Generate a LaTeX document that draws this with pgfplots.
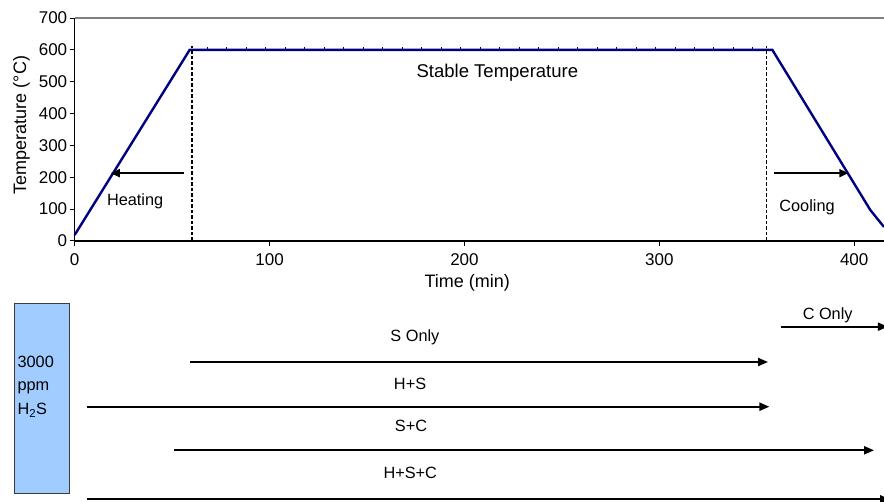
\documentclass[border=0pt]{standalone}
\usepackage{pgfplots}
\pgfplotsset{compat=1.18}
\usepackage{fontspec}
\setmainfont{Liberation Sans}
\usetikzlibrary{arrows.meta}
\definecolor{navyline}{RGB}{0,0,128}
\definecolor{boxfill}{RGB}{160,204,255}
\definecolor{boxedge}{RGB}{60,60,60}
\newcommand\fs[1]{\fontsize{#1}{#1}\selectfont}
\begin{document}
\begin{tikzpicture}
% ---------- top: temperature profile ----------
\begin{axis}[
  at={(74.7pt,-241pt)}, anchor=south west,
  width=809.3pt, height=223pt, scale only axis,
  xmin=0, xmax=415.3, ymin=0, ymax=700,
  xtick={0,100,...,400}, ytick={0,100,...,700},
  axis x line*=bottom, axis y line*=left,
  axis line style={line width=1.6pt, -},
  tick align=outside, major tick length=5pt,
  tick style={line width=1pt, black},
  /pgf/number format/assume math mode=true,
  ticklabel style={font=\fs{17}},
  yticklabel style={xshift=1pt},
  xticklabel style={yshift=-4pt},
  xlabel={Time (min)}, ylabel={Temperature (°C)},
  label style={font=\fs{18}},
  xlabel style={at={(ticklabel cs:0.485)}, anchor=north, yshift=-2pt},
  ylabel style={at={(ticklabel cs:0.52)}, anchor=south, yshift=2pt},
  clip=false,
]
\draw[gray, line width=1.2pt] (rel axis cs:0,1) -- (rel axis cs:1,1);
\addplot[navyline, line width=2.4pt] coordinates {
  (0,19) (59,600) (358,600) (408.3,97) (415.3,44)};
\addplot[navyline, only marks, mark=|, mark size=1.8pt, mark options={line width=0.8pt, yshift=1pt}]
  coordinates {(68,600) (78,600) (88,600) (98,600) (108,600) (118,600) (128,600) (138,600)
  (148,600) (158,600) (168,600) (178,600) (188,600) (198,600) (208,600) (218,600)
  (228,600) (238,600) (248,600) (258,600) (268,600) (278,600) (288,600) (298,600)
  (308,600) (318,600) (328,600) (338,600) (348,600)};
\addplot[black, line width=1.8pt, dash pattern=on 3.5pt off 2pt] coordinates {(60,0) (60,612)};
\addplot[black, line width=1.8pt, dash pattern=on 3.5pt off 2pt] coordinates {(355,0) (355,612)};
\addplot[black, line width=1.9pt, -{Triangle[length=9pt,width=8pt]}] coordinates {(56,213) (18.5,213)};
\addplot[black, line width=1.9pt, -{Triangle[length=9pt,width=8pt]}] coordinates {(359,213) (397,213)};
\node[anchor=base, font=\fs{16.3}] at (axis cs:31,113) {Heating};
\node[anchor=base, font=\fs{16.3}] at (axis cs:375.8,94) {Cooling};
\node[anchor=base, font=\fs{18.5}] at (axis cs:216.9,514) {Stable Temperature};
\end{axis}
% ---------- bottom: gas exposure schedule ----------
\begin{axis}[
  at={(74.7pt,-502pt)}, anchor=south west,
  width=809.3pt, height=212pt, scale only axis,
  xmin=0, xmax=415.3, ymin=-502, ymax=-290,
  axis lines=none, clip=false,
]
\addplot[fill=boxfill, draw=boxedge, line width=1pt] coordinates {
  (-31.1,-303.3) (-2.8,-303.3) (-2.8,-493.3) (-31.1,-493.3)} -- cycle;
\node[anchor=base west, font=\fs{16.3}, inner sep=0pt] at (axis cs:-29.4,-367.3) {3000};
\node[anchor=base west, font=\fs{16.3}, inner sep=0pt] at (axis cs:-29.4,-390.5) {ppm};
\node[anchor=base west, font=\fs{16.3}, inner sep=0pt] at (axis cs:-29.4,-414.5) {H\textsubscript{2}S};
\addplot[black, line width=2pt, -{Triangle[length=10pt,width=8pt]}] coordinates {(59.2,-362) (355.8,-362)};
\addplot[black, line width=2pt, -{Triangle[length=10pt,width=8pt]}] coordinates {(6.1,-406.7) (356.5,-406.7)};
\addplot[black, line width=2pt, -{Triangle[length=10pt,width=8pt]}] coordinates {(50.9,-450.3) (410.2,-450.3)};
\addplot[black, line width=2pt, -{Triangle[length=10pt,width=8pt]}] coordinates {(6.1,-499.3) (418.4,-499.3)};
\addplot[black, line width=2pt, -{Triangle[length=10pt,width=8pt]}] coordinates {(362.4,-326.7) (417.3,-326.7)};
\node[anchor=base, font=\fs{16.3}] at (axis cs:174.6,-341.7) {S Only};
\node[anchor=base, font=\fs{16.3}] at (axis cs:172.1,-390) {H+S};
\node[anchor=base, font=\fs{16.3}] at (axis cs:172.6,-431.7) {S+C};
\node[anchor=base, font=\fs{16.3}] at (axis cs:172.2,-478.3) {H+S+C};
\node[anchor=base, font=\fs{16.3}] at (axis cs:386.4,-320) {C Only};
\end{axis}
\pgfresetboundingbox
\path[use as bounding box] (0,0) rectangle (884pt,-502pt);
\end{tikzpicture}
\end{document}
